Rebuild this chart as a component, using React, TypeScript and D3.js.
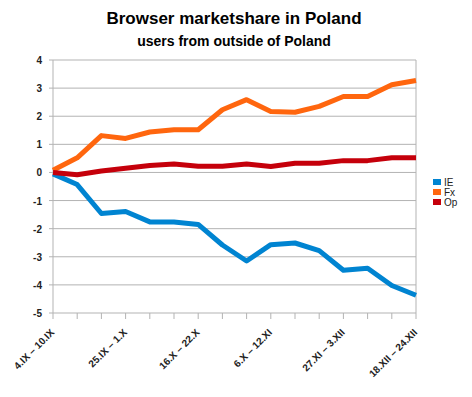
import React from 'react';
import * as d3 from 'd3';

const weeks = [
  '4.IX – 10.IX', '11.IX – 17.IX', '18.IX – 24.IX', '25.IX – 1.X',
  '2.X – 8.X', '9.X – 15.X', '16.X – 22.X', '23.X – 29.X',
  '30.X – 5.XI', '6.X – 12.XI', '13.XI – 19.XI', '20.XI – 26.XI',
  '27.XI – 3.XII', '4.XII – 10.XII', '11.XII – 17.XII', '18.XII – 24.XII',
];
const ie = [-0.05, -0.43, -1.46, -1.39, -1.76, -1.76, -1.85, -2.58, -3.15, -2.57, -2.51, -2.78, -3.48, -3.41, -4.02, -4.37];
const fx = [0.08, 0.52, 1.31, 1.21, 1.44, 1.52, 1.52, 2.23, 2.59, 2.17, 2.14, 2.35, 2.7, 2.7, 3.12, 3.27];
const op = [0.0, -0.08, 0.05, 0.15, 0.25, 0.3, 0.22, 0.22, 0.3, 0.21, 0.33, 0.33, 0.42, 0.42, 0.52, 0.52];
const yTicks = [4, 3, 2, 1, 0, -1, -2, -3, -4, -5];

const series = [
  { name: 'IE', values: ie, color: '#0084d1' },
  { name: 'Fx', values: fx, color: '#ff660e' },
  { name: 'Op', values: op, color: '#c5000b' },
];

const FONT = '"Liberation Sans", Arial, sans-serif';

export default function App() {
  const W = 472;
  const H = 397;
  const left = 53;
  const right = 416;
  const top = 60;
  const bottom = 313;

  const x = d3.scaleLinear().domain([0, weeks.length - 1]).range([left, right]);
  const y = d3.scaleLinear().domain([-5, 4]).range([bottom, top]);
  const line = d3.line<number>().x((_, i) => x(i)).y((v) => y(v));

  return (
    <svg width={W} height={H} style={{ position: 'absolute', left: 0, top: 0, background: '#fff' }} fontFamily={FONT}>
      <text x={234} y={24} textAnchor="middle" fontSize={17} fontWeight="bold">Browser marketshare in Poland</text>
      <text x={234} y={46} textAnchor="middle" fontSize={14} fontWeight="bold">users from outside of Poland</text>

      {/* grid */}
      {yTicks.map((t) => (
        <g key={t}>
          <line x1={left - 4} x2={right} y1={y(t)} y2={y(t)} stroke="#b3b3b3" />
          <text x={42} y={y(t) + 4} textAnchor="end" fontSize={10} fontWeight="bold" fill="#222">{t}</text>
        </g>
      ))}
      <line x1={left} x2={left} y1={top} y2={bottom} stroke="#b3b3b3" />
      <line x1={right} x2={right} y1={top} y2={bottom} stroke="#b3b3b3" />
      {weeks.map((w, i) => (
        <line key={w} x1={x(i)} x2={x(i)} y1={bottom} y2={bottom + 6} stroke="#b3b3b3" />
      ))}
      {weeks.map((w, i) =>
        i % 3 === 0 ? (
          <text
            key={w}
            transform={`translate(${x(i) + 2},${bottom + 20}) rotate(-45)`}
            textAnchor="end"
            fontSize={10}
            fontWeight="bold"
            fill="#222"
          >
            {w}
          </text>
        ) : null
      )}

      {series.map((s) => (
        <path key={s.name} d={line(s.values) ?? ''} fill="none" stroke={s.color} strokeWidth={5} strokeLinejoin="round" />
      ))}

      {series.map((s, i) => (
        <g key={s.name} transform={`translate(433,${179 + i * 10})`}>
          <rect width={8} height={6} fill={s.color} />
          <text x={11} y={7} fontSize={10} fill="#222">{s.name}</text>
        </g>
      ))}
    </svg>
  );
}
